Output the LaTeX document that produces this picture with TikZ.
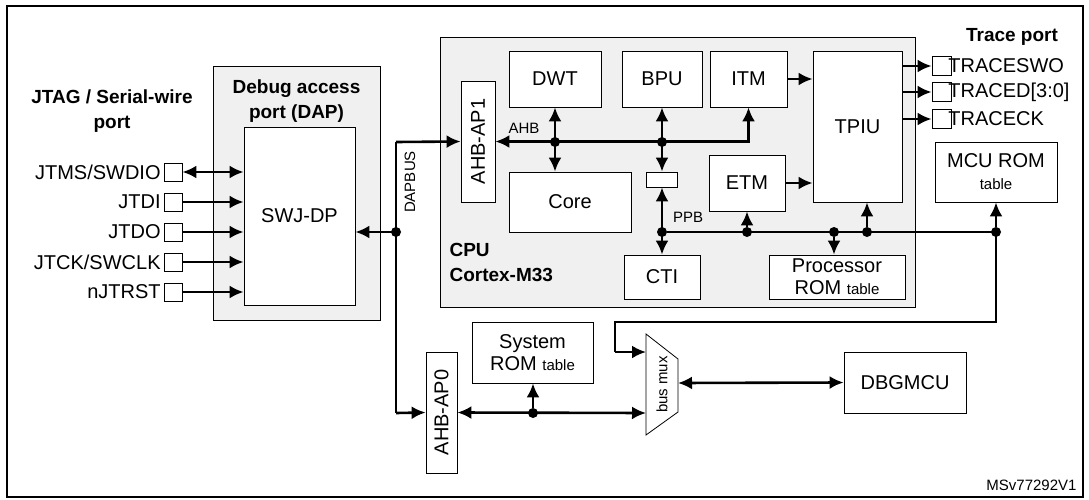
\documentclass[tikz,border=0pt]{standalone}
\usepackage{fontspec}
\setmainfont{Liberation Sans}
\usetikzlibrary{arrows.meta}
\usetikzlibrary{positioning}

\tikzset{
  blk/.style={draw,fill=white,line width=0.8pt,inner sep=0pt,align=center,font=\fontsize{20}{22}\selectfont},
  grp/.style={draw,fill=black!6,line width=0.8pt},
  pin/.style={draw,fill=white,line width=0.8pt,minimum size=18pt,inner sep=0pt},
  wire/.style={line width=2.6pt},
  bus/.style={wire,{Latex[length=14pt,width=13pt]}-{Latex[length=14pt,width=13pt]}},
  arr/.style={wire,-{Latex[length=14pt,width=13pt]}},
  dot/.style={circle,fill,inner sep=0pt,minimum size=10pt},
  ttl/.style={font=\bfseries\fontsize{19}{25}\selectfont,align=center},
  sm/.style={font=\fontsize{15}{17}\selectfont}
}

\begin{document}
\begin{tikzpicture}[x=1pt,y=-1pt]
  \useasboundingbox (0,0) rectangle (1089,500);
  \draw[line width=1.4pt] (7,6) rectangle (1083,497);
  % groups
  \node[grp,minimum width=167pt,minimum height=254pt] (dap) at (296.5,193) {};
  \node[grp,minimum width=475pt,minimum height=270pt] (cpu) at (677.5,172) {};
  \node[ttl] at (296.5,101) {Debug access\\port (DAP)};
  \node[ttl] at (112,111) {JTAG / Serial-wire\\port};
  \node[ttl] at (1012,37) {Trace port};
  \node[ttl,anchor=north west,align=left] at (446,240) {CPU\\Cortex-M33};
  % blocks
  \node[blk,minimum width=111pt,minimum height=178pt] (swj) at (299.5,216) {SWJ-DP};
  \node[blk,minimum width=121pt,minimum height=34pt,rotate=90] (ap1) at (478,141.5) {AHB-AP1};
  \node[blk,minimum width=92pt,minimum height=56pt] (dwt) at (555,79) {DWT};
  \node[blk,minimum width=80pt,minimum height=56pt] (bpu) at (662,79) {BPU};
  \node[blk,minimum width=77pt,minimum height=56pt] (itm) at (748.5,79) {ITM};
  \node[blk,minimum width=89pt,minimum height=151pt] (tpiu) at (857.5,126.5) {TPIU};
  \node[blk,minimum width=122pt,minimum height=60pt] (core) at (570,202) {Core};
  \node[blk,minimum width=31pt,minimum height=15pt] (brg) at (662,179.5) {};
  \node[blk,minimum width=76pt,minimum height=56pt] (etm) at (747,183) {ETM};
  \node[blk,minimum width=76pt,minimum height=44pt] (cti) at (662,277) {CTI};
  \node[blk,minimum width=136pt,minimum height=44pt] (prom) at (837,277) {Processor\\ROM {\fontsize{15}{17}\selectfont table}};
  \node[blk,minimum width=122pt,minimum height=60pt] (mrom) at (996,172) {MCU ROM\\{\fontsize{15}{17}\selectfont table}};
  \node[blk,minimum width=121pt,minimum height=61pt] (srom) at (532.5,352.5) {System\\ROM {\fontsize{15}{17}\selectfont table}};
  \node[blk,minimum width=121pt,minimum height=31pt,rotate=90] (ap0) at (441.5,412.5) {AHB-AP0};
  \node[blk,minimum width=122pt,minimum height=61pt] (dbg) at (905,382.5) {DBGMCU};
  % bus mux
  \coordinate (mtl) at (646,334);
  \coordinate (mtr) at (678,359);
  \coordinate (mbr) at (678,412);
  \coordinate (mbl) at (646,435);
  \draw[fill=white,line width=0.8pt] (mtl) -- (mtr) -- (mbr) -- (mbl) -- cycle;
  \node[sm,rotate=90] (mux) at (662,384.5) {bus mux};
  % JTAG pins
  \foreach \n/\t [count=\i] in {tms/JTMS\slash SWDIO,tdi/JTDI,tdo/JTDO,tck/JTCK\slash SWCLK,trst/nJTRST}{
    \node[pin] (\n) at (173,142+30*\i) {};
    \node[blk,draw=none,fill=none,anchor=east] at (161,142+30*\i) {\t};
  }
  \draw[bus] (tms.east) -- (tms.east -| swj.west);
  \foreach \n in {tdi,tdo,tck,trst}
    \draw[arr] (\n.east) -- (\n.east -| swj.west);
  % trace pins
  \foreach \n/\t/\y in {swo/TRACESWO/66,trd/TRACED[3:0]/92,tck2/TRACECK/119}{
    \node[pin,minimum size=19pt] (\n) at (941.5,\y) {};
    \node[blk,draw=none,fill=none,anchor=west] at (948,\y) {\t};
    \draw[arr] (902,\y) -- (\n.west);
  }
  % DAPBUS
  \coordinate (dj) at (396,232);
  \node[dot] at (dj) {};
  \draw[arr] (dj) -- (dj -| swj.east);
  \draw[arr] (396,142) -- (ap1.north);
  \draw[wire] (396,142) -- (396,413);
  \draw[arr] (396,413) -- (ap0.north);
  \node[sm,rotate=90] at (410,182) {DAPBUS};
  % AHB bus
  \draw[bus] (ap1.south) -- (ap1.south -| itm.south) -- (itm.south);
  \node[sm] at (524,128) {AHB};
  \node[dot] (ahb1) at (dwt.south |- 0,142) {};
  \node[dot] (ahb2) at (bpu.south |- 0,142) {};
  \draw[bus] (dwt.south) -- (dwt.south |- core.north);
  \draw[bus] (bpu.south) -- (brg.north);
  % PPB bus
  \node[dot] (ppb) at (662,232) {};
  \draw[bus] (brg.south) -- (cti.north);
  \node[sm] at (688,217) {PPB};
  \draw[wire] (ppb) -- (996,232) -- (996,322) -- (615,322) -- (615,352);
  \draw[arr] (615,352) -- (mtl |- 0,352);
  \node[dot] (p1) at (747,232) {};
  \node[dot] (p2) at (834,232) {};
  \node[dot] (p3) at (867,232) {};
  \node[dot] (p4) at (996,232) {};
  \draw[arr] (p1) -- (etm.south);
  \draw[arr] (p2) -- (p2 |- prom.north);
  \draw[arr] (p3) -- (p3 |- tpiu.south);
  \draw[arr] (p4) -- (mrom.south);
  \draw[arr] (itm.east) -- (itm.east -| tpiu.west);
  \draw[arr] (etm.east) -- (etm.east -| tpiu.west);
  % system side
  \draw[bus] (ap0.south) -- (mtl |- 0,413);
  \node[dot] (s1) at (533,413) {};
  \draw[arr] (s1) -- (s1 |- srom.south);
  \draw[bus] (mtr |- 0,383) -- (dbg.west);
  \node[sm,anchor=east] at (1080,485) {MSv77292V1};
\end{tikzpicture}
\end{document}
